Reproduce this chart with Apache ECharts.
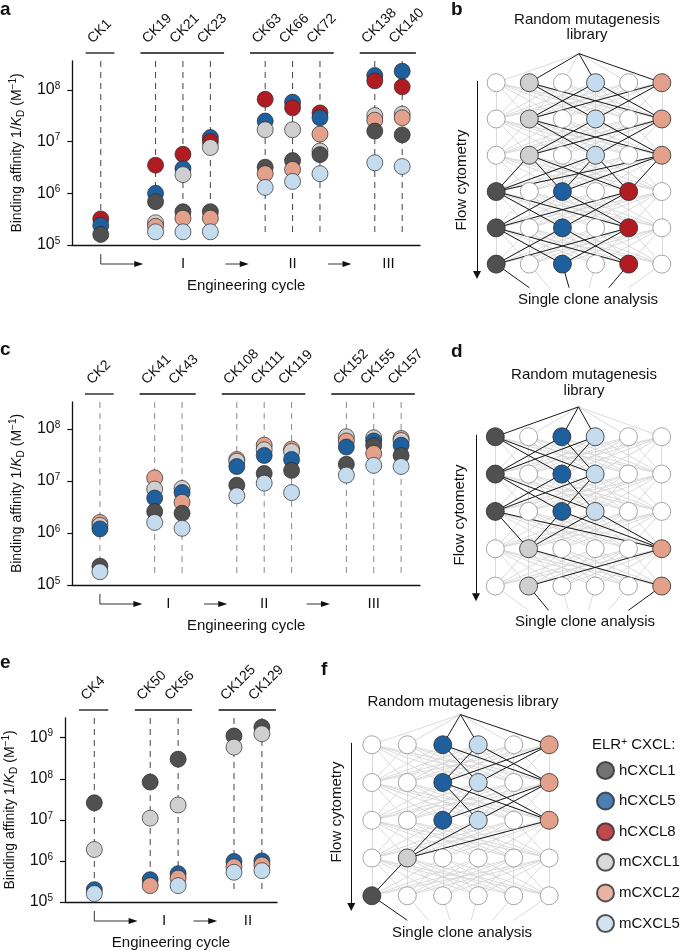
<!DOCTYPE html>
<html>
<head>
<meta charset="utf-8">
<script src="https://cdn.jsdelivr.net/npm/echarts@6/dist/echarts.min.js"></script>
<style>
  html, body { margin: 0; padding: 0; background: #fff; }
  #chart { width: 685px; height: 951px; }
</style>
</head>
<body>
<div id="chart"></div>
<script>
// chemokines and their colours
const chemokines = ['hCXCL1', 'hCXCL5', 'hCXCL8', 'mCXCL1', 'mCXCL2', 'mCXCL5'];
const chemokineColors = ['#505050', '#1e5f9e', '#b01c22', '#cfcfcf', '#e3a08a', '#c5dbee'];

// panel a : binding affinity 1/KD (M^-1), null = not shown
const aGroups = [['CK1'], ['CK19', 'CK21', 'CK23'], ['CK63', 'CK66', 'CK72'], ['CK138', 'CK140']];
const aCycles = ['I', 'II', 'III'];
const a_hCXCL1 = [1.6e5, 6.9e5, 4.4e5, 4.4e5, 3.2e6, 4.3e6, 5.6e6, 1.6e7, 1.35e7];
const a_hCXCL5 = [2.4e5, 1.0e6, 3.0e6, 1.2e7, 2.5e7, 5.8e7, 2.9e7, 1.9e8, 2.3e8];
const a_hCXCL8 = [3.2e5, 3.5e6, 5.7e6, 1.0e7, 6.6e7, 4.5e7, 3.6e7, 1.5e8, 1.15e8];
const a_mCXCL1 = [null, 2.7e5, 2.3e6, 7.7e6, 1.7e7, 1.7e7, 6.6e6, 3.2e7, 3.4e7];
const a_mCXCL2 = [null, 2.3e5, 3.3e5, 3.3e5, 2.4e6, 2.9e6, 1.4e7, 2.6e7, 2.9e7];
const a_mCXCL5 = [null, 1.8e5, 1.8e5, 1.8e5, 1.3e6, 1.7e6, 2.4e6, 3.9e6, 3.3e6];

// panel c
const cGroups = [['CK2'], ['CK41', 'CK43'], ['CK108', 'CK111', 'CK119'], ['CK152', 'CK155', 'CK157']];
const cCycles = ['I', 'II', 'III'];
const c_hCXCL1 = [2.3e5, 2.6e6, 2.4e6, 8.3e6, 1.4e7, 1.6e7, 2.1e7, 4.8e7, 3.1e7];
const c_hCXCL5 = [1.2e6, 4.7e6, 6.0e6, 1.9e7, 3.1e7, 2.6e7, 4.5e7, 5.9e7, 4.9e7];
const c_hCXCL8 = [null, null, null, null, null, null, null, null, null];
const c_mCXCL1 = [1.4e6, 7.0e6, 7.2e6, 2.4e7, 4.0e7, 3.7e7, 7.1e7, 6.8e7, 6.0e7];
const c_mCXCL2 = [1.6e6, 1.15e7, 3.9e6, 2.6e7, 4.9e7, 4.1e7, 5.9e7, 3.4e7, 6.6e7];
const c_mCXCL5 = [1.8e5, 1.6e6, 1.23e6, 5.2e6, 9.1e6, 6.0e6, 1.3e7, 2.0e7, 1.9e7];

// panel e
const eGroups = [['CK4'], ['CK50', 'CK56'], ['CK125', 'CK129']];
const eCycles = ['I', 'II'];
const e_hCXCL1 = [2.6e7, 8.3e7, 3.0e8, 1.1e9, 1.8e9];
const e_hCXCL5 = [2.0e5, 3.5e5, 4.9e5, 9.7e5, 1.0e6];
const e_hCXCL8 = [null, null, null, null, null];
const e_mCXCL1 = [1.9e6, 1.1e7, 2.3e7, 5.9e8, 1.25e9];
const e_mCXCL2 = [null, 2.5e5, 3.8e5, 7.2e5, 8.0e5];
const e_mCXCL5 = [1.6e5, null, 2.5e5, 5.3e5, 5.8e5];

// networks: chemokine selected at each node (row by row), null = not selected
const bRows = [
  [null, 'mCXCL1', null, 'mCXCL5', null, 'mCXCL2'],
  [null, 'mCXCL1', null, 'mCXCL5', null, 'mCXCL2'],
  [null, 'mCXCL1', null, 'mCXCL5', null, 'mCXCL2'],
  ['hCXCL1', null, 'hCXCL5', null, 'hCXCL8', null],
  ['hCXCL1', null, 'hCXCL5', null, 'hCXCL8', null],
  ['hCXCL1', null, 'hCXCL5', null, 'hCXCL8', null]
];
const dRows = [
  ['hCXCL1', null, 'hCXCL5', 'mCXCL5', null, null],
  ['hCXCL1', null, 'hCXCL5', 'mCXCL5', null, null],
  ['hCXCL1', null, 'hCXCL5', 'mCXCL5', null, null],
  [null, 'mCXCL1', null, null, null, 'mCXCL2'],
  [null, 'mCXCL1', null, null, null, 'mCXCL2']
];
const fRows = [
  [null, null, 'hCXCL5', 'mCXCL5', null, 'mCXCL2'],
  [null, null, 'hCXCL5', 'mCXCL5', null, 'mCXCL2'],
  [null, null, 'hCXCL5', 'mCXCL5', null, 'mCXCL2'],
  [null, 'mCXCL1', null, null, null, null],
  ['hCXCL1', null, null, null, null, null]
];

const FONT = '"Liberation Sans", Arial, Helvetica, sans-serif';

// consecutive slots inside a group, one empty slot between groups
function layoutGroups (groups) {
  const pos = []
  let p = 0
  groups.forEach(g => {
    g.forEach(() => { pos.push(p); p++ })
    p++
  })
  return pos
}

const scatterPanels = [
  { groups: aGroups, cycles: aCycles, values: [a_hCXCL1, a_hCXCL5, a_hCXCL8, a_mCXCL1, a_mCXCL2, a_mCXCL5],
    grid: { left: 66, top: 61, width: 354, height: 184 }, xMin: -1.04, xMax: 11.65, yMax: Math.pow(10, 8.56), dash: '#444' },
  { groups: cGroups, cycles: cCycles, values: [c_hCXCL1, c_hCXCL5, c_hCXCL8, c_mCXCL1, c_mCXCL2, c_mCXCL5],
    grid: { left: 65, top: 402, width: 355, height: 183 }, xMin: -1.01, xMax: 11.69, yMax: Math.pow(10, 8.52), dash: '#8a8a8a' },
  { groups: eGroups, cycles: eCycles, values: [e_hCXCL1, e_hCXCL5, e_hCXCL8, e_mCXCL1, e_mCXCL2, e_mCXCL5],
    grid: { left: 65, top: 718, width: 212, height: 185 }, xMin: -1.05, xMax: 6.54, yMax: Math.pow(10, 9.48), dash: '#444' }
]

const networkPanels = [
  { rows: bRows, grid: { left: 473, top: 46.4, width: 229, height: 254 }, yMax: 7 },
  { rows: dRows, grid: { left: 472, top: 399.4, width: 227, height: 224 }, yMax: 6 },
  { rows: fRows, grid: { left: 347, top: 707, width: 227, height: 226.5 }, yMax: 6 }
]

const grids = []
const xAxes = []
const yAxes = []
const series = []

// the rotated variant names sit a little left of their column
const NAME_SHIFT = 0.39

scatterPanels.forEach((p, i) => {
  const pos = layoutGroups(p.groups)
  const names = p.groups.flat()
  const centers = p.groups.slice(1).map(g => {
    const idx = names.indexOf(g[0])
    return (pos[idx] + pos[idx + g.length - 1]) / 2
  })
  grids.push(Object.assign({ containLabel: false }, p.grid))
  xAxes.push({
    gridIndex: i, type: 'value', min: p.xMin, max: p.xMax,
    axisLine: { onZero: false, lineStyle: { color: '#111', width: 1.3 } },
    axisTick: { show: false },
    splitLine: { show: false },
    axisLabel: {
      customValues: centers,
      formatter: v => p.cycles[centers.findIndex(c => Math.abs(c - v) < 0.01)] || '',
      color: '#111', fontSize: 15, fontFamily: FONT, margin: 11
    },
    name: 'Engineering cycle', nameLocation: 'middle', nameGap: 33,
    nameTextStyle: { color: '#111', fontSize: 15, fontFamily: FONT }
  })
  yAxes.push({
    gridIndex: i, type: 'log', logBase: 10, min: 1e5, max: p.yMax,
    axisLine: { onZero: false, lineStyle: { color: '#111', width: 1.3 } },
    axisTick: { show: true, length: 5, lineStyle: { color: '#111', width: 1.2 },
      customValues: [1e5, 1e6, 1e7, 1e8, 1e9].filter(v => v <= p.yMax) },
    minorTick: { show: false },
    splitLine: { show: false },
    axisLabel: {
      customValues: [1e5, 1e6, 1e7, 1e8, 1e9].filter(v => v <= p.yMax),
      formatter: v => '10{sup|' + Math.round(Math.log10(v)) + '}',
      color: '#111', fontSize: 16, fontFamily: FONT, margin: 12, lineHeight: 18,
      rich: { sup: { fontSize: 10, lineHeight: 10, verticalAlign: 'top', color: '#111', fontFamily: FONT } }
    },
    name: 'Binding affinity 1/{i|K}{sub|D} (M{sup|\u22121})',
    nameLocation: 'middle', nameGap: 46, nameRotate: 90,
    nameTextStyle: {
      color: '#111', fontSize: 14, fontFamily: FONT, lineHeight: 18,
      rich: {
        i: { fontStyle: 'italic', fontSize: 14, lineHeight: 18, color: '#111', fontFamily: FONT },
        sub: { fontSize: 10, lineHeight: 12, verticalAlign: 'bottom', color: '#111', fontFamily: FONT },
        sup: { fontSize: 10, lineHeight: 10, verticalAlign: 'top', color: '#111', fontFamily: FONT }
      }
    }
  })
  // top axis only carries the rotated variant names
  const nameAt = pos.map(x => x - NAME_SHIFT)
  xAxes.push({
    gridIndex: i, type: 'value', position: 'top', min: p.xMin, max: p.xMax,
    axisLine: { show: false }, axisTick: { show: false }, splitLine: { show: false },
    axisLabel: {
      customValues: nameAt, rotate: -45, margin: 20,
      formatter: v => names[nameAt.findIndex(c => Math.abs(c - v) < 0.01)] || '',
      color: '#111', fontSize: 14, fontFamily: FONT
    }
  })
  const xMain = xAxes.length - 2

  // points: lower affinities drawn last (on top)
  const pts = []
  p.values.forEach((vals, k) => {
    vals.forEach((v, j) => {
      if (v != null) pts.push({ value: [pos[j], v], itemStyle: { color: chemokineColors[k] } })
    })
  })
  pts.sort((u, w) => w.value[1] - u.value[1])

  // dashed guides
  series.push({
    type: 'custom', xAxisIndex: xMain, yAxisIndex: i, z: 1, silent: true,
    encode: { x: 0, y: 1 },
    data: pos.map(x => [x, 1e6]),
    renderItem: (params, api) => {
      const cs = params.coordSys
      const x = api.coord([api.value(0), 1e6])[0]
      return { type: 'line', shape: { x1: x, y1: cs.y, x2: x, y2: cs.y + cs.height - 10 },
        style: { stroke: p.dash, lineWidth: 1, lineDash: [6, 5] } }
    }
  })
  // group bars above the panel
  series.push({
    type: 'custom', xAxisIndex: xMain, yAxisIndex: i, silent: true,
    encode: { x: [0, 1], y: 2 },
    data: p.groups.map(g => {
      const idx = names.indexOf(g[0])
      return [pos[idx] - 0.55, pos[idx + g.length - 1] + 0.5, 1e6]
    }),
    renderItem: (params, api) => {
      const cs = params.coordSys
      const x1 = api.coord([api.value(0), 1e6])[0]
      const x2 = api.coord([api.value(1), 1e6])[0]
      return { type: 'line', shape: { x1: x1, y1: cs.y - 8, x2: x2, y2: cs.y - 8 },
        style: { stroke: '#111', lineWidth: 1.3 } }
    }
  })
  // cycle arrows below the axis
  const arrows = [[pos[0], pos[1] - 0.45, 1e6, 0]]
  for (let k = 0; k < centers.length - 1; k++) {
    const mid = (centers[k] + centers[k + 1]) / 2
    arrows.push([mid - 0.45, mid + 0.4, 1e6, 1])
  }
  series.push({
    type: 'custom', xAxisIndex: xMain, yAxisIndex: i, silent: true,
    encode: { x: [0, 1], y: 2 },
    data: arrows,
    renderItem: (params, api) => {
      const cs = params.coordSys
      const x1 = api.coord([api.value(0), 1e6])[0]
      const x2 = api.coord([api.value(1), 1e6])[0]
      const y = cs.y + cs.height + 19
      const pts = api.value(3) === 0 ? [[x1, cs.y + cs.height + 9], [x1, y], [x2 - 6, y]] : [[x1, y], [x2 - 6, y]]
      return {
        type: 'group',
        children: [
          { type: 'polyline', shape: { points: pts }, style: { stroke: '#333', lineWidth: 1, fill: null } },
          { type: 'polygon', shape: { points: [[x2, y], [x2 - 9, y - 3], [x2 - 9, y + 3]] }, style: { fill: '#111' } }
        ]
      }
    }
  })
  series.push({
    type: 'scatter', xAxisIndex: xMain, yAxisIndex: i, z: 3,
    symbol: 'circle', symbolSize: 16,
    itemStyle: { borderColor: '#2a2a2a', borderWidth: 0.7, opacity: 1 },
    data: pts
  })
})

const networkAxes = []
networkPanels.forEach((n, j) => {
  const gi = 3 + j
  const N = n.rows.length
  grids.push(n.grid)
  xAxes.push({ gridIndex: gi, type: 'value', min: 0.3, max: 6.7, show: false })
  yAxes.push({ gridIndex: gi, type: 'value', min: 0, max: n.yMax, inverse: true, show: false })
  const xi = xAxes.length - 1
  const yi = yAxes.length - 1
  networkAxes.push([xi, yi])

  const grey = []
  const black = []
  const apex = [3.5, 0.2]
  n.rows[0].forEach((h, c) => {
    (h ? black : grey).push({ coords: [apex, [c + 1, 1]] })
  })
  for (let r = 0; r < N - 1; r++) {
    n.rows[r].forEach((h1, c1) => {
      n.rows[r + 1].forEach((h2, c2) => {
        grey.push({ coords: [[c1 + 1, r + 1], [c2 + 1, r + 2]] })
        if (h1 && h2 && c1 !== c2) black.push({ coords: [[c1 + 1, r + 1], [c2 + 1, r + 2]] })
      })
    })
  }
  n.rows[N - 1].forEach((h, c) => {
    (h ? black : grey).push({ coords: [[c + 1, N], [3.5 + (c + 1 - 3.5) * 0.6, N + 0.65]] })
  })
  series.push({
    type: 'lines', coordinateSystem: 'cartesian2d', xAxisIndex: xi, yAxisIndex: yi,
    silent: true, z: 1, clip: false,
    lineStyle: { color: '#d2d2d2', width: 0.8, opacity: 1 },
    data: grey
  })
  series.push({
    type: 'lines', coordinateSystem: 'cartesian2d', xAxisIndex: xi, yAxisIndex: yi,
    silent: true, z: 2, clip: false,
    lineStyle: { color: '#1a1a1a', width: 1, opacity: 1 },
    data: black
  })
  // flow cytometry arrow
  series.push({
    type: 'lines', coordinateSystem: 'cartesian2d', xAxisIndex: xi, yAxisIndex: yi,
    silent: true, z: 2, clip: false,
    symbol: ['none', 'triangle'], symbolSize: 8,
    lineStyle: { color: '#111', width: 1, opacity: 1 },
    data: [{ coords: [[0.42, 0.95], [0.42, N + 0.3]] }]
  })
  const nodes = []
  n.rows.forEach((row, r) => {
    row.forEach((h, c) => {
      nodes.push({
        value: [c + 1, r + 1],
        itemStyle: h
          ? { color: chemokineColors[chemokines.indexOf(h)], borderColor: '#2a2a2a' }
          : { color: '#fff', borderColor: '#8f8f8f' }
      })
    })
  })
  series.push({
    type: 'scatter', xAxisIndex: xi, yAxisIndex: yi, z: 3, silent: true,
    symbol: 'circle', symbolSize: 18,
    itemStyle: { borderWidth: 0.8, opacity: 1 },
    data: nodes
  })
})

// legend entries (no marks of their own)
chemokines.forEach((name, k) => {
  series.push({
    type: 'scatter', name: name, xAxisIndex: networkAxes[2][0], yAxisIndex: networkAxes[2][1], data: [],
    symbol: 'circle',
    itemStyle: { color: chemokineColors[k], borderColor: '#2a2a2a', borderWidth: 0.7 }
  })
})

function txt (text, x, y, extra) {
  return Object.assign({
    type: 'text', x: x, y: y, silent: true,
    style: Object.assign({ text: text, fill: '#111', font: '15px ' + FONT, textAlign: 'center', textVerticalAlign: 'middle' }, extra || {})
  })
}
function letter (t, x, y) {
  return txt(t, x, y, { font: 'bold 19px ' + FONT, textAlign: 'left' })
}
const flowB = txt('Flow cytometry', 461.5, 180)
flowB.rotation = Math.PI / 2
const flowD = txt('Flow cytometry', 460, 515)
flowD.rotation = Math.PI / 2
const flowF = txt('Flow cytometry', 336.5, 812)
flowF.rotation = Math.PI / 2

const option = {
  animation: false,
  backgroundColor: '#fff',
  textStyle: { fontFamily: FONT },
  grid: grids,
  xAxis: xAxes,
  yAxis: yAxes,
  legend: {
    data: chemokines,
    orient: 'vertical', left: 591, top: 756,
    icon: 'circle', itemWidth: 17, itemHeight: 17, itemGap: 11.6,
    selectedMode: false,
    textStyle: { fontSize: 15, color: '#111', fontFamily: FONT }
  },
  graphic: [
    letter('a', 0, 10), letter('b', 451, 10),
    letter('c', 0, 350), letter('d', 451, 352),
    letter('e', 0, 663), letter('f', 321, 670),
    txt('Random mutagenesis\nlibrary', 587, 27, { lineHeight: 15 }),
    txt('Random mutagenesis\nlibrary', 584, 383, { lineHeight: 16 }),
    txt('Random mutagenesis library', 463, 702),
    txt('Single clone analysis', 588, 300),
    txt('Single clone analysis', 585, 622),
    txt('Single clone analysis', 462, 933),
    flowB, flowD, flowF,
    {
      type: 'text', x: 592, y: 745, silent: true,
      style: {
        text: 'ELR{sup|+} CXCL:', fill: '#111', font: '15px ' + FONT, textVerticalAlign: 'middle',
        rich: { sup: { fontSize: 10, lineHeight: 10, verticalAlign: 'top', fill: '#111', fontFamily: FONT } }
      }
    }
  ],
  series: series
}

const chart = echarts.init(document.getElementById('chart'))
chart.setOption(option)
</script>
</body>
</html>
